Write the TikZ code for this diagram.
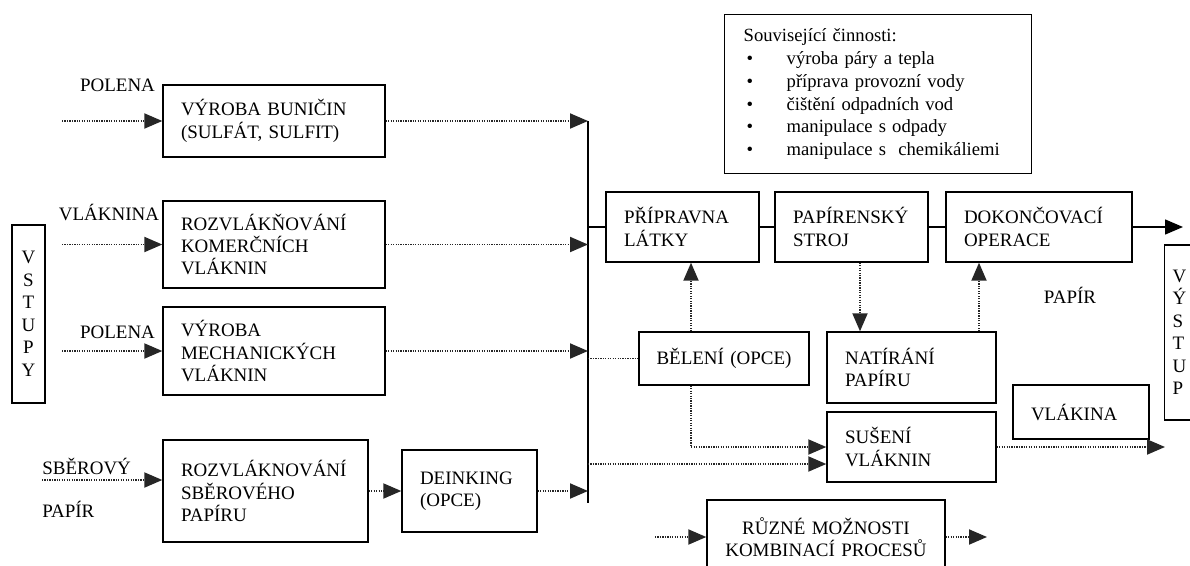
\documentclass[tikz,border=0pt]{standalone}
\usepackage{fontspec}
\setmainfont{Liberation Serif}
\usetikzlibrary{arrows.meta}

\begin{document}
\begin{tikzpicture}[x=0.02cm,y=-0.02cm,
    font=\fontsize{10.8}{12.8}\selectfont,
    blok/.style={draw,line width=0.8pt,rectangle,align=left,inner xsep=0.36cm,inner ysep=0pt},
    popis/.style={inner sep=0pt},
    tecky/.style={line width=1.1pt,dash pattern=on 0.7pt off 0.7pt,black!85},
    plna/.style={line width=0.8pt},
    sipka/.style={-{Triangle[length=3.6mm,width=3mm]}}]
    \clip (0,0) rectangle (1190,565);
    %vstupy
    \node[blok,align=center,text width=0.34cm,inner xsep=0.16cm,minimum height=3.56cm] (vstupy) at (28.5,314) {V\\S\\T\\U\\P\\Y};
    \node[popis] (polenaA) at (117.5,85) {POLENA};
    \node[popis] (vlaknina) at (109,212) {VLÁKNINA};
    \node[popis] (polenaB) at (117.5,332) {POLENA};
    \node[popis,anchor=west] (sberovy) at (42,466) {SBĚROVÝ};
    \node[popis,anchor=west] (papirA) at (42,509) {PAPÍR};
    %prvni sloupec
    \node[blok,text width=3.72cm,minimum height=1.44cm] (vyrobaBun) at (274,121) {VÝROBA BUNIČIN\\(SULFÁT, SULFIT)};
    \node[blok,text width=3.72cm,minimum height=1.74cm] (rozvlKom) at (274,244.5) {ROZVLÁKŇOVÁNÍ\\KOMERČNÍCH\\VLÁKNIN};
    \node[blok,text width=3.72cm,minimum height=1.76cm] (vyrobaMech) at (274,351) {VÝROBA\\MECHANICKÝCH\\VLÁKNIN};
    \node[blok,text width=3.38cm,minimum height=2.04cm] (rozvlSber) at (265.5,491) {ROZVLÁKNOVÁNÍ\\SBĚROVÉHO\\PAPÍRU};
    \node[blok,text width=1.98cm,minimum height=1.64cm] (deinking) at (469.5,491) {DEINKING\\(OPCE)};
    %papirna
    \node[blok,text width=2.34cm,minimum height=1.4cm] (pripravna) at (682.5,227) {PŘÍPRAVNA\\LÁTKY};
    \node[blok,text width=2.34cm,minimum height=1.4cm] (papStroj) at (851.5,227) {PAPÍRENSKÝ\\STROJ};
    \node[blok,text width=3.0cm,minimum height=1.4cm] (dokonc) at (1039,227) {DOKONČOVACÍ\\OPERACE};
    \node[blok,align=center,text width=3.1cm,inner xsep=0.15cm,minimum height=1.06cm] (beleni) at (724,358.5) {BĚLENÍ (OPCE)};
    \node[blok,text width=2.66cm,minimum height=1.42cm] (natirani) at (911.5,367.5) {NATÍRÁNÍ\\PAPÍRU};
    \node[blok,text width=2.66cm,minimum height=1.4cm] (suseni) at (911.5,447) {SUŠENÍ\\VLÁKNIN};
    \node[blok,text width=2.0cm,minimum height=1.08cm] (vlakina) at (1081,412) {VLÁKINA};
    \node[blok,align=center,text width=4.04cm,minimum height=1.48cm] (ruzne) at (826,537) {RŮZNÉ MOŽNOSTI\\KOMBINACÍ PROCESŮ};
    \node[blok,anchor=west,text width=0.48cm,inner xsep=0.16cm,minimum height=3.5cm] (vystup) at (1164,332.5) {V\\Ý\\S\\T\\U\\P};
    \node[popis] (papirB) at (1070,295) {PAPÍR};
    %souvisejici cinnosti
    \node[blok,anchor=north west,text width=5.38cm,inner xsep=0.38cm,minimum height=3.18cm,
          font=\fontsize{10.6}{13}\selectfont] (souvis) at (724,14)
        {Související činnosti:\\
         \makebox[0.86cm][l]{\hspace{0.06cm}\textbullet}výroba páry a tepla\\
         \makebox[0.86cm][l]{\hspace{0.06cm}\textbullet}příprava provozní vody\\
         \makebox[0.86cm][l]{\hspace{0.06cm}\textbullet}čištění odpadních vod\\
         \makebox[0.86cm][l]{\hspace{0.06cm}\textbullet}manipulace s odpady\\
         \makebox[0.86cm][l]{\hspace{0.06cm}\textbullet}manipulace s\ \ chemikáliemi};
    %body
    \coordinate (vstup) at (62,0);
    \coordinate (k1) at (588,121);
    \coordinate (k2) at (588,503);
    \coordinate (sb) at (42,480);
    \coordinate (s2) at (588,464);
    \coordinate (bx) at (691,0);
    \coordinate (nx) at (860,0);
    \coordinate (dx) at (979,0);
    \coordinate (papirOut) at (1183,227);
    \coordinate (vlakOut) at (1165,447);
    \coordinate (rIn) at (655,537);
    \coordinate (rOut) at (987,537);
    %draw lines
    \draw[plna] (k1) -- (k2);
    \foreach \b in {vyrobaBun,rozvlKom,vyrobaMech}
        {%
            \draw[tecky,sipka] (\b.west -| vstup) -- (\b.west);
            \draw[tecky,sipka] (\b.east) -- (\b.east -| k1);
        }
    \draw[tecky,sipka] (sb) -- (sb -| rozvlSber.west);
    \draw[tecky,sipka] (rozvlSber) -- (deinking);
    \draw[tecky,sipka] (deinking.east) -- (deinking.east -| k1);
    \draw[plna] (pripravna.west -| k1) -- (pripravna.west);
    \draw[plna] (pripravna) -- (papStroj);
    \draw[plna] (papStroj) -- (dokonc);
    \draw[plna,sipka] (dokonc) -- (papirOut);
    \draw[tecky] (beleni.west -| k1) -- (beleni.west);
    \draw[tecky,sipka] (beleni.north -| bx) -- (pripravna.south -| bx);
    \draw[tecky,sipka] (beleni.south -| bx) |- (suseni.west);
    \draw[tecky,sipka] (s2) -- (s2 -| suseni.west);
    \draw[tecky,sipka] (papStroj.south -| nx) -- (natirani.north -| nx);
    \draw[tecky,sipka] (natirani.north -| dx) -- (dokonc.south -| dx);
    \draw[tecky,sipka] (suseni) -- (vlakOut);
    \draw[tecky,sipka] (rIn) -- (ruzne);
    \draw[tecky,sipka] (ruzne) -- (rOut);
\end{tikzpicture}
\end{document}
